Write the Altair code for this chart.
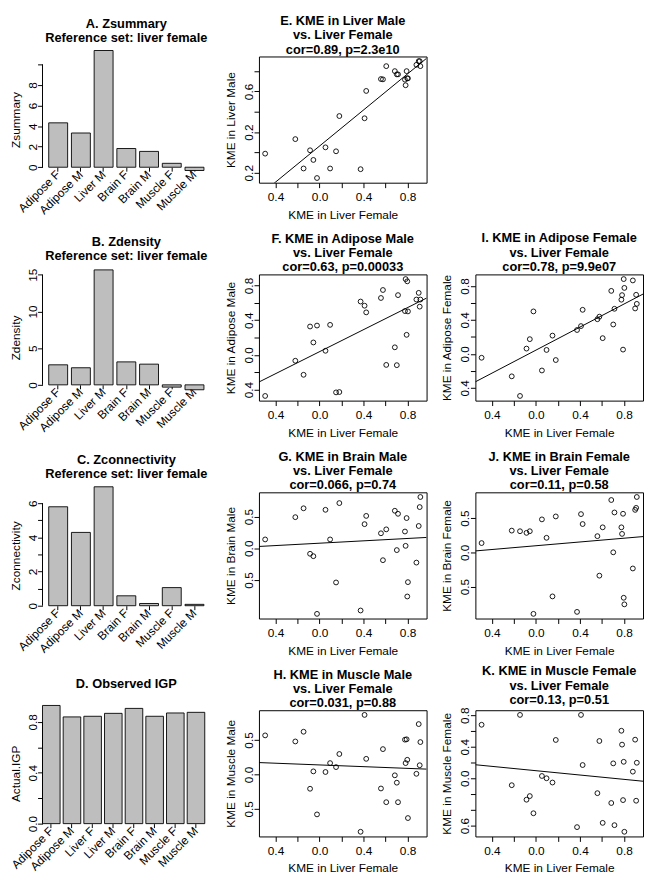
import altair as alt
import pandas as pd

FONT = "Liberation Sans"

# ---------------- data ----------------
bar_groups = ["Adipose F", "Adipose M", "Liver M", "Brain F", "Brain M", "Muscle F", "Muscle M"]
zsummary = [4.32, 3.33, 11.36, 1.82, 1.54, 0.38, -0.32]
zdensity = [2.73, 2.33, 15.67, 3.13, 2.82, -0.31, -0.67]
zconnectivity = [5.79, 4.29, 6.96, 0.58, 0.13, 1.06, 0.08]
igp_groups = ["Adipose F", "Adipose M", "Liver F", "Liver M", "Brain F", "Brain M", "Muscle F", "Muscle M"]
observed_igp = [0.929, 0.839, 0.844, 0.867, 0.906, 0.844, 0.870, 0.875]

kme_liver_female = [-0.494, -0.220, -0.145, -0.086, -0.056, -0.023, 0.054, 0.096, 0.150, 0.180,
                    0.373, 0.409, 0.424, 0.558, 0.576, 0.606, 0.684, 0.702, 0.713, 0.776,
                    0.782, 0.791, 0.797, 0.803, 0.880, 0.901, 0.910, 0.916]
kme_liver_male = [-0.012, 0.131, -0.158, 0.021, -0.074, -0.252, 0.050, -0.158, 0.011, 0.358,
                  -0.165, 0.336, 0.605, 0.722, 0.719, 0.849, 0.800, 0.768, 0.768, 0.716,
                  0.661, 0.800, 0.729, 0.729, 0.862, 0.898, 0.898, 0.849]
kme_adipose_male = [-0.474, -0.068, -0.230, 0.327, 0.143, 0.338, 0.047, 0.346, -0.433, -0.429,
                    0.615, 0.567, 0.490, 0.656, 0.748, -0.116, 0.087, -0.119, 0.689, 0.505,
                    0.874, 0.231, 0.848, 0.501, 0.638, 0.715, 0.556, 0.638]
kme_adipose_female = [-0.046, -0.265, -0.496, 0.062, 0.173, 0.500, -0.196, 0.046, 0.215, -0.073,
                      0.281, 0.327, 0.519, 0.408, 0.438, 0.185, 0.742, 0.346, 0.531, 0.638,
                      0.692, 0.050, 0.881, 0.777, 0.865, 0.535, 0.696, 0.589]
kme_brain_male = [0.139, 0.490, 0.630, -0.087, -0.125, -1.034, 0.606, 0.139, -0.539, 0.712,
                  -0.981, 0.380, 0.510, 0.236, -0.188, 0.298, 0.591, -0.029, 0.543, 0.264,
                  0.038, 0.476, -0.760, -0.534, -0.226, 0.351, 0.649, 0.808]
kme_brain_female = [0.135, 0.317, 0.308, 0.284, 0.308, -0.899, 0.481, 0.212, -0.644, 0.524,
                    -0.870, 0.558, 0.413, 0.236, -0.341, 0.365, 0.764, 0.000, 0.582, 0.365,
                    0.269, 0.563, -0.664, -0.760, -0.236, 0.620, 0.649, 0.808]
kme_muscle_male = [0.566, 0.478, 0.619, -0.208, 0.044, -0.580, 0.035, 0.164, 0.106, 0.296,
                   -0.832, 0.863, 0.226, -0.204, 0.367, -0.403, -0.013, -0.120, -0.403, 0.504,
                   0.164, 0.509, 0.212, -0.633, 0.009, 0.730, 0.133, 0.469]
kme_muscle_female = [0.679, -0.088, 0.804, -0.272, -0.226, -0.444, 0.029, 0.000, -0.054, 0.486,
                     -0.620, 0.804, 0.168, -0.189, 0.473, -0.566, -0.314, 0.189, -0.595, 0.603,
                     0.427, -0.277, 0.209, -0.679, 0.084, 0.490, -0.285, 0.197]

x_ticks = [-0.4, -0.2, 0.0, 0.2, 0.4, 0.6, 0.8]
x_labeled = [-0.4, 0.0, 0.4, 0.8]

# ---------------- helpers ----------------
PW, PH = 170, 128
AX = dict(labelFont=FONT, titleFont=FONT, labelFontSize=12, titleFontSize=12,
          titleFontWeight="normal", labelColor="black", titleColor="black",
          tickColor="black", tickWidth=1, grid=False)


def ext(v):
    lo, hi = min(v), max(v)
    r = hi - lo
    return [lo - 0.04 * r, hi + 0.04 * r]


def label_expr(labeled, fmt):
    arr = ",".join(str(int(round(v * 10))) for v in labeled)
    return ("indexof([" + arr + "], round(datum.value*10)) >= 0 ? format(abs(datum.value), '"
            + fmt + "') : ''")


def title(lines, offset):
    return alt.TitleParams(text=lines, fontSize=13, fontWeight="bold", font=FONT, lineHeight=14.5,
                           offset=offset, frame="group", anchor="middle", color="black")


def bar_panel(groups, values, tlines, ytitle, ticks, labeled, fmt, zero_px, px_unit,
              toffset, band):
    lo = -(PH - zero_px) / px_unit
    hi = zero_px / px_unit
    df = pd.DataFrame({"group": groups, "value": values})
    ys = alt.Scale(domain=[lo, hi], nice=False, zero=False)
    yax = alt.Axis(title=ytitle, values=ticks, labelExpr=label_expr(labeled, fmt),
                   domain=False, tickSize=5, labelPadding=1.5, labelAngle=-90,
                   labelAlign="center", labelBaseline="alphabetic", titleX=-20, **AX)
    bars = alt.Chart(df).mark_bar(color="#bebebe", stroke="black", strokeWidth=0.9).encode(
        x=alt.X("group:N", sort=groups, scale=alt.Scale(**band),
                axis=alt.Axis(title=None, labelAngle=-45, labelAlign="right", labelBaseline="middle",
                              domain=False, tickSize=4, labelPadding=1, offset=zero_px - PH, **AX)),
        y=alt.Y("value:Q", scale=ys, axis=yax),
        y2=alt.datum(0),
    )
    axis_line = alt.Chart(pd.DataFrame({"value": [ticks[0]], "top": [ticks[-1]]})).mark_rule(
        color="black", strokeWidth=1).encode(
        y=alt.Y("value:Q", scale=ys, axis=yax), y2="top:Q", x=alt.value(0))
    return alt.layer(bars, axis_line).properties(width=PW, height=PH, title=title(tlines, toffset))


def scatter_panel(yvals, tlines, ytitle, yticks, ylabeled):
    df = pd.DataFrame({"x": kme_liver_female, "y": yvals})
    xd = ext(kme_liver_female)
    yd = ext(yvals)
    xs = alt.Scale(domain=xd, nice=False, zero=False)
    ys = alt.Scale(domain=yd, nice=False, zero=False)
    xax = alt.Axis(title="KME in Liver Female", values=x_ticks, labelExpr=label_expr(x_labeled, ".1f"),
                   domain=False, tickSize=5, labelPadding=4, titleY=27, **AX)
    yax = alt.Axis(title=ytitle, values=yticks, labelExpr=label_expr(ylabeled, ".1f"),
                   domain=False, tickSize=5, labelPadding=1.5, labelAngle=-90, labelAlign="center",
                   labelBaseline="alphabetic", titleX=-22, **AX)
    pts = alt.Chart(df).mark_point(shape="circle", filled=False, color="black", size=24,
                                   strokeWidth=0.9, opacity=1).encode(
        x=alt.X("x:Q", scale=xs, axis=xax), y=alt.Y("y:Q", scale=ys, axis=yax))
    fit = alt.Chart(df).transform_regression("x", "y", extent=xd).mark_line(
        color="black", strokeWidth=1, clip=True).encode(
        x=alt.X("x:Q", scale=xs, axis=xax), y=alt.Y("y:Q", scale=ys, axis=yax))
    return alt.layer(pts, fit).properties(width=PW, height=PH, title=title(tlines, 0),
                                          view=alt.ViewBackground(stroke="black", strokeWidth=1))


band7 = {"paddingInner": 0.167, "paddingOuter": 0.273}
band8 = {"paddingInner": 0.15, "paddingOuter": 0.13, "align": 0}

A = bar_panel(bar_groups, zsummary, ["A. Zsummary", "Reference set: liver female"], "Zsummary",
              [0, 2, 4, 6, 8, 10], [0, 2, 4, 6, 8], ".0f", 112.3, 10.42, 5, band7)
B = bar_panel(bar_groups, zdensity, ["B. Zdensity", "Reference set: liver female"], "Zdensity",
              [0, 5, 10, 15], [0, 5, 10, 15], ".0f", 112.0, 7.44, 5, band7)
C = bar_panel(bar_groups, zconnectivity, ["C. Zconnectivity", "Reference set: liver female"],
              "Zconnectivity", [0, 1, 2, 3, 4, 5, 6], [0, 2, 4, 6], ".0f", 115.0, 17.33, 5.5, band7)
D = bar_panel(igp_groups, observed_igp, ["D. Observed IGP"], "Actual.IGP",
              [0.0, 0.2, 0.4, 0.6, 0.8], [0.0, 0.4, 0.8], ".1f", 115.0, 129.0, 14, band8)

E = scatter_panel(kme_liver_male, ["E. KME in Liver Male", "vs. Liver Female", "cor=0.89, p=2.3e10"],
                  "KME in Liver Male", [-0.2, 0.0, 0.2, 0.4, 0.6, 0.8], [-0.2, 0.2, 0.6])
F = scatter_panel(kme_adipose_male, ["F. KME in Adipose Male", "vs. Liver Female", "cor=0.63, p=0.00033"],
                  "KME in Adipose Male", [-0.4, -0.2, 0.0, 0.2, 0.4, 0.6, 0.8], [-0.4, 0.0, 0.4, 0.8])
I = scatter_panel(kme_adipose_female, ["I. KME in Adipose Female", "vs. Liver Female", "cor=0.78, p=9.9e07"],
                  "KME in Adipose Female", [-0.4, -0.2, 0.0, 0.2, 0.4, 0.6, 0.8], [-0.4, 0.0, 0.4, 0.8])
G = scatter_panel(kme_brain_male, ["G. KME in Brain Male", "vs. Liver Female", "cor=0.066, p=0.74"],
                  "KME in Brain Male", [-0.5, 0.0, 0.5], [-0.5, 0.0, 0.5])
J = scatter_panel(kme_brain_female, ["J. KME in Brain Female", "vs. Liver Female", "cor=0.11, p=0.58"],
                  "KME in Brain Female", [-0.5, 0.0, 0.5], [-0.5, 0.0, 0.5])
H = scatter_panel(kme_muscle_male, ["H. KME in Muscle Male", "vs. Liver Female", "cor=0.031, p=0.88"],
                  "KME in Muscle Male", [-0.5, 0.0, 0.5], [-0.5, 0.0, 0.5])
K = scatter_panel(kme_muscle_female, ["K. KME in Muscle Female", "vs. Liver Female", "cor=0.13, p=0.51"],
                  "KME in Muscle Female", [-0.6, -0.4, -0.2, 0.0, 0.2, 0.4, 0.6, 0.8],
                  [-0.6, 0.0, 0.4, 0.8])

blank = alt.Chart(pd.DataFrame({"v": [0]})).mark_point(opacity=0).encode(
    x=alt.X("v:Q", axis=None), y=alt.Y("v:Q", axis=None)).properties(width=PW, height=PH)

chart = alt.concat(A, E, blank, B, F, I, C, G, J, D, H, K, columns=3,
                   spacing={"row": 93, "column": 49.5}, bounds="flush").properties(
    padding={"left": 0, "top": 0, "right": 0, "bottom": 0}
).configure_view(stroke=None).configure_title(font=FONT, color="black")

chart.save("out.html", embed_options={"renderer": "svg", "actions": False})
